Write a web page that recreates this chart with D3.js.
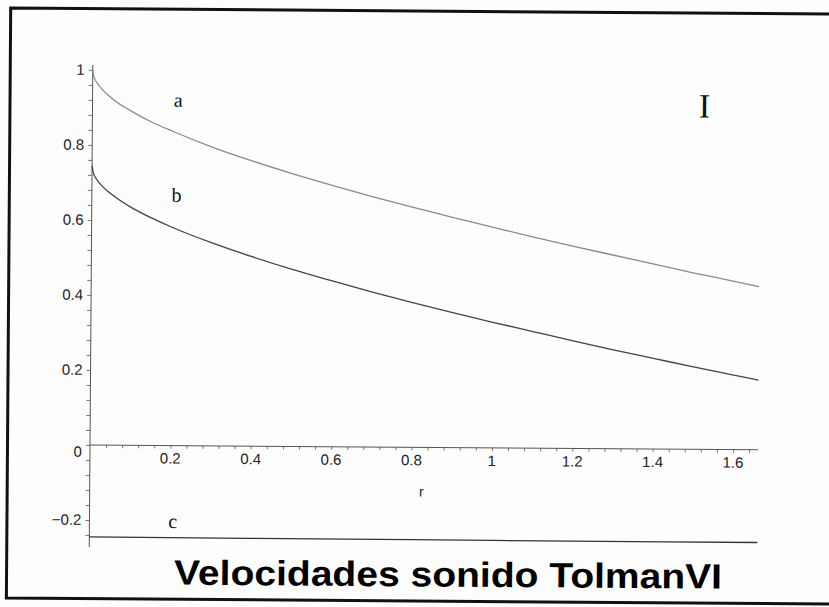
<!DOCTYPE html>
<html>
<head>
<meta charset="utf-8">
<script src="https://cdn.jsdelivr.net/npm/d3@7"></script>
<style>
  html, body { margin: 0; padding: 0; background: #fdfdfd; }
  svg { display: block; }
</style>
</head>
<body>
<svg id="chart" width="829" height="607"></svg>
<script>
// Sound speed curves for the Tolman VI solution, against radius r
const rA = [0, 0.003, 0.01, 0.025, 0.05, 0.1, 0.15, 0.2, 0.3, 0.4, 0.5, 0.6, 0.7, 0.8, 0.9, 1.0, 1.1, 1.2, 1.3, 1.4, 1.5, 1.6, 1.662];
const seriesA = [1.0, 0.982, 0.967, 0.947, 0.923, 0.889, 0.861, 0.838, 0.796, 0.760, 0.727, 0.696, 0.667, 0.640, 0.613, 0.588, 0.563, 0.539, 0.516, 0.493, 0.470, 0.449, 0.435];

const rB = [0, 0.003, 0.01, 0.025, 0.05, 0.1, 0.15, 0.2, 0.3, 0.4, 0.5, 0.6, 0.7, 0.8, 0.9, 1.0, 1.1, 1.2, 1.3, 1.4, 1.5, 1.6, 1.662];
const seriesB = [0.745, 0.727, 0.711, 0.691, 0.668, 0.633, 0.606, 0.582, 0.541, 0.505, 0.472, 0.442, 0.413, 0.386, 0.360, 0.335, 0.311, 0.287, 0.264, 0.242, 0.220, 0.199, 0.186];

const rC = [0, 0.4, 0.8, 1.2, 1.662];
const seriesC = [-0.245, -0.246, -0.246, -0.247, -0.247];

const xTickValues = [0.2, 0.4, 0.6, 0.8, 1, 1.2, 1.4, 1.6];
const xTickLabels = ["0.2", "0.4", "0.6", "0.8", "1", "1.2", "1.4", "1.6"];
const yTickValues = [1, 0.8, 0.6, 0.4, 0.2, 0, -0.2];
const yTickLabels = ["1", "0.8", "0.6", "0.4", "0.2", "0", "\u22120.2"];

const curveLabels = [
  { text: "a", r: 0.213, v: 0.903 },
  { text: "b", r: 0.211, v: 0.65 },
  { text: "c", r: 0.207, v: -0.22 }
];

const titleText = "Velocidades sonido TolmanVI";
const axisTitle = "r";
const panelMark = "I";

const svg = d3.select("#chart");

// the whole sheet sits slightly turned, pivoting on the origin of the plot
const root = svg.append("g").attr("transform", "rotate(0.42, 90, 445)");

const x = d3.scaleLinear().domain([0, 1.662]).range([90, 758]);
const y = d3.scaleLinear().domain([-0.272, 1.013]).range([547, 65]);

// frame: top, left and bottom edges (the right edge runs off the sheet)
root.append("path")
  .attr("d", "M900,8.6H7.5V598.6H900")
  .attr("fill", "none")
  .attr("stroke", "#111")
  .attr("stroke-width", 3);

const axisColor = "#555";
const fontSans = "'Liberation Sans', Arial, Helvetica, sans-serif";
const fontSerif = "'Liberation Serif', 'Times New Roman', Times, serif";

// minor tick positions every 0.04
const xMinor = d3.range(1, 42).map(i => +(i * 0.04).toFixed(2)).filter(v => v <= 1.66);
const yMinor = d3.range(-6, 26).map(i => +(i * 0.04).toFixed(2));

// horizontal axis
const gx = root.append("g").attr("transform", `translate(0,${y(0)})`);
gx.call(d3.axisBottom(x).tickValues(xMinor).tickSize(3).tickFormat(""));
gx.select(".domain").attr("d", `M${x(0)},0H${x(1.662)}`);
gx.selectAll("path, line").attr("stroke", axisColor).attr("stroke-width", 1);
gx.selectAll(".tick line").attr("stroke-width", 0.8);

// vertical axis
const gy = root.append("g").attr("transform", `translate(${x(0)},0)`);
gy.call(d3.axisLeft(y).tickValues(yMinor).tickSize(4).tickFormat(""));
gy.select(".domain").attr("d", `M0,${y(1.013)}V${y(-0.272)}`);
gy.selectAll("path, line").attr("stroke", axisColor).attr("stroke-width", 1);
gy.selectAll(".tick line").attr("stroke-width", 0.8);

// tick labels
root.append("g").selectAll("text")
  .data(xTickValues)
  .join("text")
  .attr("x", d => x(d))
  .attr("y", y(0) + 18)
  .attr("text-anchor", "middle")
  .attr("font-family", fontSans)
  .attr("font-size", 15)
  .attr("fill", "#222")
  .text((d, i) => xTickLabels[i]);

root.append("g").selectAll("text")
  .data(yTickValues)
  .join("text")
  .attr("x", x(0) - 8)
  .attr("y", d => y(d) + (d === 0 ? 12 : 5))
  .attr("text-anchor", "end")
  .attr("font-family", fontSans)
  .attr("font-size", 15)
  .attr("fill", "#222")
  .text((d, i) => yTickLabels[i]);

// axis title
root.append("text")
  .attr("x", x(0.825))
  .attr("y", y(0) + 49)
  .attr("text-anchor", "middle")
  .attr("font-family", fontSans)
  .attr("font-size", 14)
  .attr("fill", "#222")
  .text(axisTitle);

// curves
const line = d3.line().x(d => x(d[0])).y(d => y(d[1])).curve(d3.curveMonotoneX);
const curves = [
  { r: rA, v: seriesA, color: "#8a8a8a" },
  { r: rB, v: seriesB, color: "#444" },
  { r: rC, v: seriesC, color: "#333" }
];
root.append("g").selectAll("path")
  .data(curves)
  .join("path")
  .attr("d", c => line(c.r.map((r, i) => [r, c.v[i]])))
  .attr("fill", "none")
  .attr("stroke", c => c.color)
  .attr("stroke-width", 1.3);

// curve labels
root.append("g").selectAll("text")
  .data(curveLabels)
  .join("text")
  .attr("x", d => x(d.r))
  .attr("y", d => y(d.v))
  .attr("text-anchor", "middle")
  .attr("font-family", fontSerif)
  .attr("font-size", 20)
  .attr("fill", "#111")
  .text(d => d.text);

root.append("text")
  .attr("x", 702)
  .attr("y", 113)
  .attr("text-anchor", "middle")
  .attr("font-family", fontSerif)
  .attr("font-size", 34)
  .attr("fill", "#111")
  .text(panelMark);

// title
root.append("text")
  .attr("x", 449)
  .attr("y", 584)
  .attr("text-anchor", "middle")
  .attr("font-family", fontSans)
  .attr("font-weight", "bold")
  .attr("font-size", 35)
  .attr("textLength", 548)
  .attr("lengthAdjust", "spacingAndGlyphs")
  .attr("fill", "#000")
  .text(titleText);
</script>
</body>
</html>
